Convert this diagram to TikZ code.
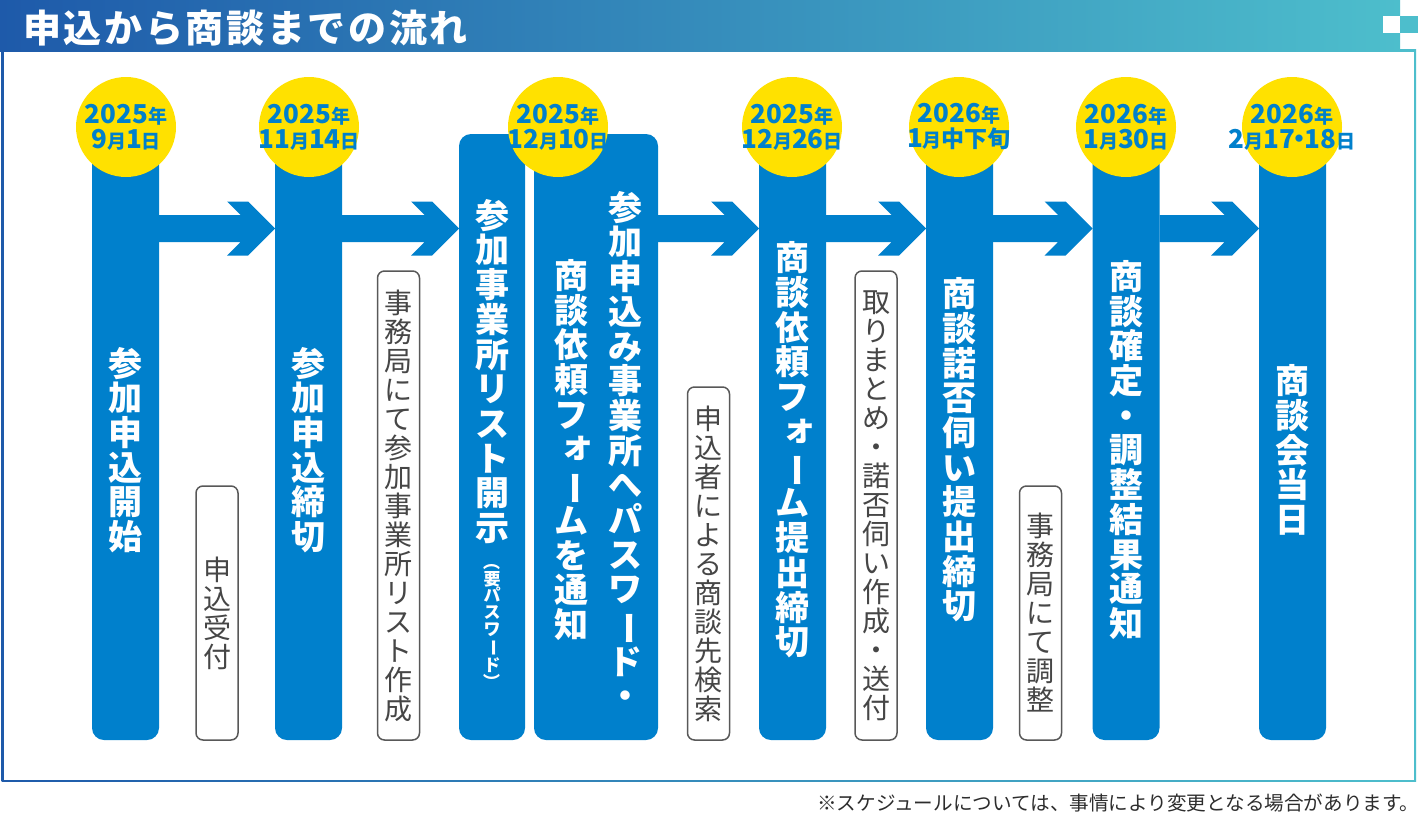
\documentclass[tikz,border=0pt]{standalone}
\usepackage{fontspec}
\usepackage{graphicx}
\usepackage{tikz}
\usetikzlibrary{calc,positioning}
\newfontfamily\jp{Noto Sans CJK JP}
\newfontfamily\jptitle{Noto Sans CJK JP}[LetterSpace=7]
\newcommand\dsm[1]{{\fontsize{19}{19}\selectfont #1}}
\newcommand\tbar{\rotatebox[origin=c]{-90}{ー}}
\newcommand\tparen[1]{\rotatebox[origin=c]{-90}{#1}}
\newcommand\tsmall[1]{\makebox[1em][l]{\kern0.2em\raisebox{0.12em}{#1}}}
\definecolor{barblue}{RGB}{0,128,204}
\definecolor{dateyellow}{RGB}{255,225,0}
\definecolor{hdrL}{RGB}{30,90,170}
\definecolor{hdrR}{RGB}{77,190,204}
\definecolor{memoline}{RGB}{88,88,88}
\definecolor{memotext}{RGB}{70,70,70}
\definecolor{notegray}{RGB}{45,45,45}

\begin{document}
\begin{tikzpicture}[x=1pt, y=-1pt]

\tikzstyle{bar} = [rectangle, rounded corners=12pt, fill=barblue, inner sep=0, outer sep=0, minimum width=67pt, minimum height=590pt]
\tikzstyle{tall} = [bar, minimum height=606pt]
\tikzstyle{tate} = [inner sep=0, align=center, text=white, font=\jp\bfseries\fontsize{34}{34.7}\selectfont]
\tikzstyle{datecirc} = [circle, fill=dateyellow, minimum size=100pt, inner sep=0]
\tikzstyle{datetext} = [inner sep=0, align=center, text=barblue, font=\jp\bfseries\fontsize{26}{25}\selectfont]
\tikzstyle{memo} = [rectangle, rounded corners=7pt, draw=memoline, line width=1.5pt, fill=white, minimum width=42pt, inner sep=0, align=center, text=memotext, font=\jp\fontsize{28}{29}\selectfont]
\tikzstyle{flow} = [fill=barblue]

\useasboundingbox (0,0) rectangle (1418,816);
\fill[white] (0,0) rectangle (1418,816);

\shade[left color=hdrL, right color=hdrR] (1.5,50) rectangle (1416,781.5);
\fill[white] (3.5,52) rectangle (1413.5,779.5);
\shade[left color=hdrL, right color=hdrR] (0,0) rectangle (1400,52);
\fill[white] (1383,16) rectangle (1400,33);
\fill[hdrR] (1400,16) rectangle (1418,33);

\node[anchor=west, inner sep=0, text=white, font=\jptitle\bfseries\fontsize{38}{40}\selectfont] (title) at (23,28.5) {申込から商談までの流れ};

\node[bar] (b1) at (125.5,445) {};
\node[bar] (b2) at (308.5,445) {};
\node[tall, minimum width=66pt] (b3a) at (492,437) {};
\node[tall, minimum width=124pt] (b3b) at (596,437) {};
\node[bar] (b4) at (792.5,445) {};
\node[bar] (b5) at (959.5,445) {};
\node[bar] (b6) at (1126,445) {};
\node[bar] (b7) at (1292.5,445) {};

\coordinate (ay) at (0,228.5);
\foreach \a/\b in {b1/b2, b2/b3a, b3b/b4, b4/b5, b5/b6, b6/b7}
  \fill[flow] ($(\a.east |- ay)+(0,-13.5)$) -- ($(\b.west |- ay)+(-34.5,-13.5)$) -- ++(-13.5,-13.5) -- ++(21,0) -- (\b.west |- ay) -- ++(-27,27) -- ++(-21,0) -- ++(13.5,-13.5) -- ($(\a.east |- ay)+(0,13.5)$) -- cycle;

\node[tate] (t1) at (125.5,450) {参\\加\\申\\込\\開\\始};
\node[tate] (t2) at (308.5,450) {参\\加\\申\\込\\締\\切};
\node[tate, anchor=north] (t3a) at (492,199) {参\\加\\事\\業\\所\\リ\\ス\\ト\\開\\示};
\node[tate, below=9pt of t3a, font=\jp\bfseries\fontsize{17}{16.8}\selectfont] (t3p) {\tparen{（}\\要\\パ\\ス\\ワ\\\tbar\\ド\\\tparen{）}};
\node[tate] (t3r) at (625,450) {参\\加\\申\\込\\み\\事\\業\\所\\へ\\パ\\ス\\ワ\\\tbar\\ド\\・};
\node[tate] (t3l) at (571,450) {商\\談\\依\\頼\\フ\\\tsmall{ォ}\\\tbar\\ム\\を\\通\\知};
\node[tate] (t4) at (792.5,450) {商\\談\\依\\頼\\フ\\\tsmall{ォ}\\\tbar\\ム\\提\\出\\締\\切};
\node[tate] (t5) at (959.5,450) {商\\談\\諾\\否\\伺\\い\\提\\出\\締\\切};
\node[tate] (t6) at (1126,450) {商\\談\\確\\定\\・\\調\\整\\結\\果\\通\\知};
\node[tate] (t7) at (1292.5,450) {商\\談\\会\\当\\日};

\node[datecirc] (c1) at (126,127) {};
\node[datecirc] (c2) at (309,127) {};
\node[datecirc] (c3) at (558,127) {};
\node[datecirc] (c4) at (792,127) {};
\node[datecirc] (c5) at (959,127) {};
\node[datecirc] (c6) at (1126,127) {};
\node[datecirc] (c7) at (1292,127) {};
\node[datetext] (d1) at (c1) {2025\dsm{年}\\9\dsm{月}1\dsm{日}};
\node[datetext] (d2) at (c2) {2025\dsm{年}\\11\dsm{月}14\dsm{日}};
\node[datetext] (d3) at (c3) {2025\dsm{年}\\12\dsm{月}10\dsm{日}};
\node[datetext] (d4) at (c4) {2025\dsm{年}\\12\dsm{月}26\dsm{日}};
\node[datetext] (d5) at (c5) {2026\dsm{年}\\1\dsm{月}{\fontsize{23}{25}\selectfont 中下旬}};
\node[datetext] (d6) at (c6) {2026\dsm{年}\\1\dsm{月}30\dsm{日}};
\node[datetext] (d7) at (c7) {2026\dsm{年}\\2\dsm{月}17\makebox[9pt]{・}18\dsm{日}};

\node[memo, minimum height=254pt] (m1) at (217,613) {申\\込\\受\\付};
\node[memo, minimum height=469pt] (m2) at (398.5,505.5) {事\\務\\局\\に\\て\\参\\加\\事\\業\\所\\リ\\ス\\ト\\作\\成};
\node[memo, minimum height=353pt] (m3) at (708.5,563.5) {申\\込\\者\\に\\よ\\る\\商\\談\\先\\検\\索};
\node[memo, minimum height=469pt] (m4) at (876,505.5) {取\\り\\ま\\と\\め\\・\\諾\\否\\伺\\い\\作\\成\\・\\送\\付};
\node[memo, minimum height=254pt] (m5) at (1040.5,613) {事\\務\\局\\に\\て\\調\\整};

\node[anchor=west, inner sep=0, text=notegray, font=\jp\fontsize{19.6}{20}\selectfont] (note) at (817,803) {※スケジュールについては、事情により変更となる場合があります。};

\end{tikzpicture}
\end{document}
